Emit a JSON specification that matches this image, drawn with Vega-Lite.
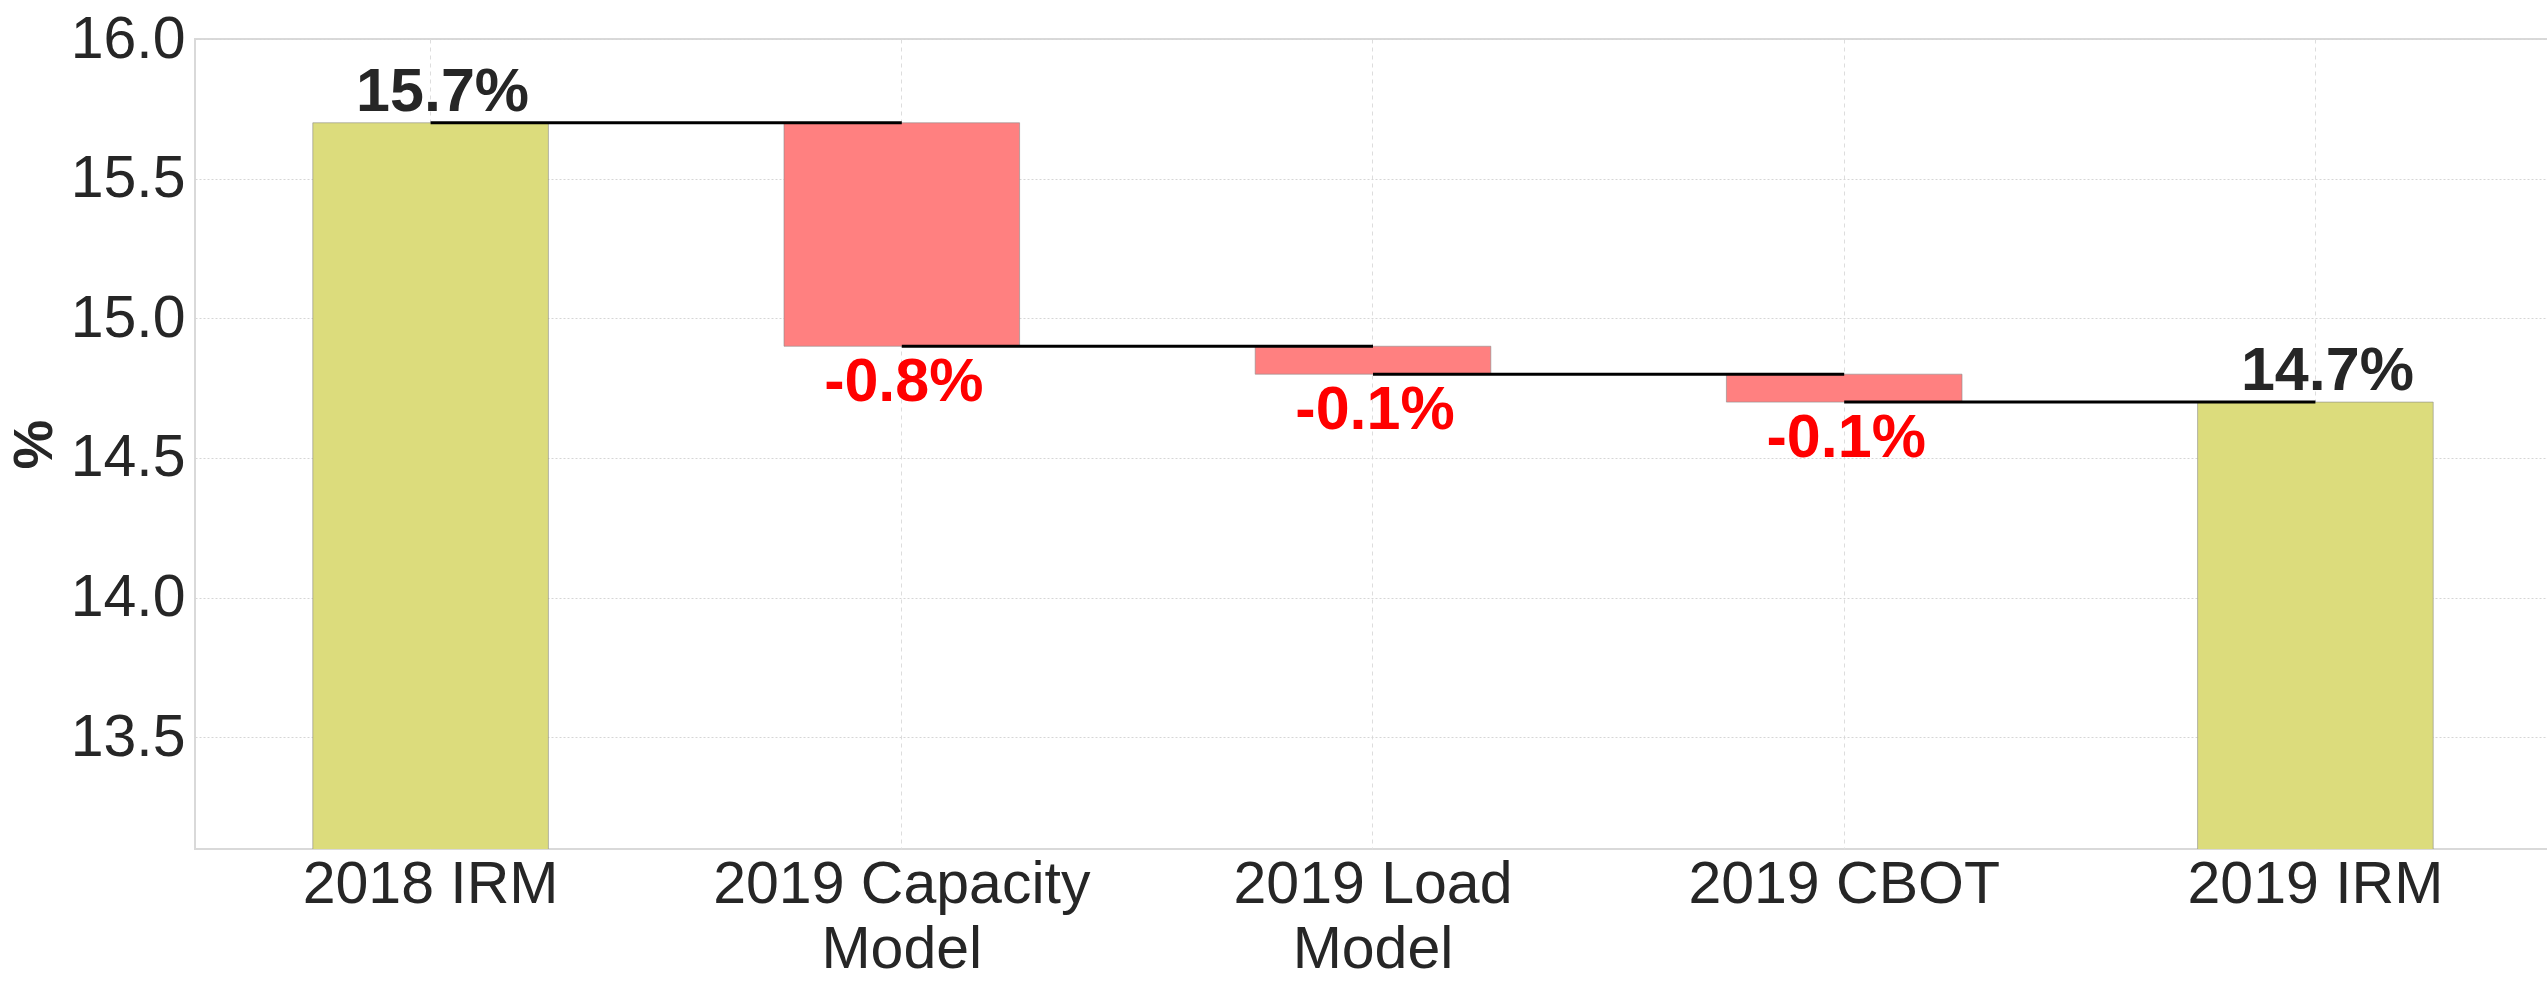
{
  "$schema": "https://vega.github.io/schema/vega-lite/v6.json",
  "width": 2356,
  "height": 810,
  "autosize": {"type": "none"},
  "padding": {"left": 195, "top": 39, "right": 0, "bottom": 132},
  "background": "white",
  "config": {
    "font": "Liberation Sans",
    "view": {"stroke": "#d9d9d9", "strokeWidth": 2},
    "axis": {"domain": false, "ticks": false}
  },
  "datasets": {
    "bars": [
      {"step": "2018 IRM", "start": 0, "end": 15.7, "kind": "total", "label": "15.7%"},
      {"step": "2019 Capacity Model", "start": 15.7, "end": 14.9, "kind": "delta", "label": "-0.8%"},
      {"step": "2019 Load Model", "start": 14.9, "end": 14.8, "kind": "delta", "label": "-0.1%"},
      {"step": "2019 CBOT", "start": 14.8, "end": 14.7, "kind": "delta", "label": "-0.1%"},
      {"step": "2019 IRM", "start": 0, "end": 14.7, "kind": "total", "label": "14.7%"}
    ],
    "links": [
      {"from": "2018 IRM", "to": "2019 Capacity Model", "level": 15.7},
      {"from": "2019 Capacity Model", "to": "2019 Load Model", "level": 14.9},
      {"from": "2019 Load Model", "to": "2019 CBOT", "level": 14.8},
      {"from": "2019 CBOT", "to": "2019 IRM", "level": 14.7}
    ]
  },
  "encoding": {
    "x": {
      "field": "step",
      "type": "nominal",
      "sort": ["2018 IRM", "2019 Capacity Model", "2019 Load Model", "2019 CBOT", "2019 IRM"],
      "scale": {"domain": ["2018 IRM", "2019 Capacity Model", "2019 Load Model", "2019 CBOT", "2019 IRM"], "paddingInner": 0.5, "paddingOuter": 0.25},
      "axis": {
        "title": null,
        "labelAngle": 0,
        "labelFontSize": 59,
        "labelColor": "#262626",
        "labelPadding": 6,
        "labelLineHeight": 65,
        "labelLimit": 0,
        "labelExpr": "datum.value === '2019 Capacity Model' ? ['2019 Capacity', 'Model'] : datum.value === '2019 Load Model' ? ['2019 Load', 'Model'] : datum.value",
        "grid": true,
        "bandPosition": 0.5,
        "gridColor": "#dddddd",
        "gridDash": [4, 4],
        "gridWidth": 1
      }
    }
  },
  "layer": [
    {
      "data": {"name": "bars"},
      "mark": {"type": "bar", "clip": true, "stroke": "#8a8a8a", "strokeWidth": 1, "strokeOpacity": 0.6},
      "encoding": {
        "y": {
          "field": "end",
          "type": "quantitative",
          "scale": {"domain": [13.1, 16.0], "zero": false, "nice": false},
          "axis": {
            "title": "%",
            "titleFontSize": 56,
            "titleFontWeight": "bold",
            "titleColor": "#262626",
            "titlePadding": 7,
            "values": [13.5, 14.0, 14.5, 15.0, 15.5, 16.0],
            "format": ".1f",
            "labelFontSize": 59,
            "labelColor": "#262626",
            "labelPadding": 10,
            "grid": true,
            "gridColor": "#d6d6d6",
            "gridDash": [2, 2],
            "gridWidth": 1
          }
        },
        "y2": {"field": "start"},
        "color": {
          "field": "kind",
          "type": "nominal",
          "scale": {"domain": ["total", "delta"], "range": ["#dcdc7c", "#ff8080"]},
          "legend": null
        }
      }
    },
    {
      "data": {"name": "links"},
      "mark": {"type": "rule", "color": "#000000", "strokeWidth": 3},
      "encoding": {
        "x": {"field": "from", "type": "nominal"},
        "x2": {"field": "to"},
        "y": {"field": "level", "type": "quantitative"}
      }
    },
    {
      "data": {"name": "bars"},
      "transform": [{"filter": "datum.kind === 'total'"}],
      "mark": {"type": "text", "fontSize": 61, "fontWeight": "bold", "color": "#262626", "baseline": "alphabetic", "dy": -12, "dx": 12},
      "encoding": {
        "y": {"field": "end", "type": "quantitative"},
        "text": {"field": "label"}
      }
    },
    {
      "data": {"name": "bars"},
      "transform": [{"filter": "datum.kind === 'delta'"}],
      "mark": {"type": "text", "fontSize": 61, "fontWeight": "bold", "color": "#ff0000", "baseline": "alphabetic", "dy": 55, "dx": 2},
      "encoding": {
        "y": {"field": "end", "type": "quantitative"},
        "text": {"field": "label"}
      }
    }
  ]
}
